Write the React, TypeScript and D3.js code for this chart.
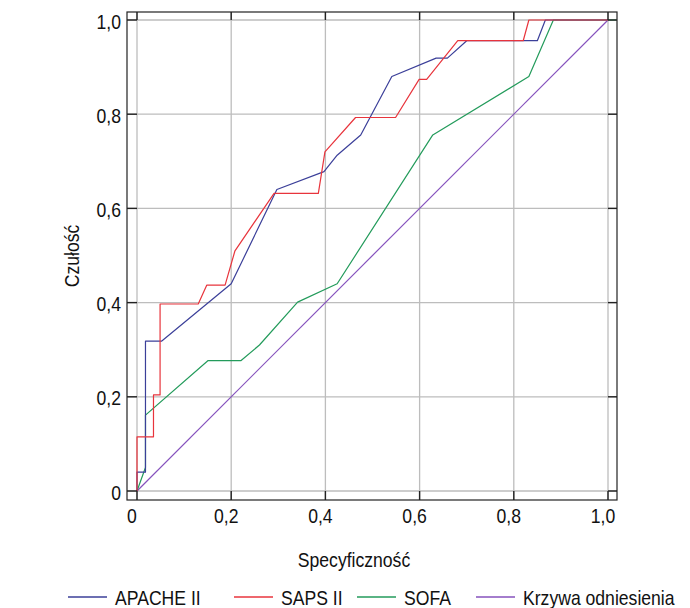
import React from "react";
import * as d3 from "d3";

// ---- data ----
const xTickValues = [0, 0.2, 0.4, 0.6, 0.8, 1.0];
const xTickLabels = ["0", "0,2", "0,4", "0,6", "0,8", "1,0"];
const yTickValues = [0, 0.2, 0.4, 0.6, 0.8, 1.0];
const yTickLabels = ["0", "0,2", "0,4", "0,6", "0,8", "1,0"];

const apacheX = [0, 0, 0.018, 0.018, 0.052, 0.2, 0.297, 0.397, 0.425, 0.475, 0.541, 0.635, 0.659, 0.7, 0.85, 0.867, 1.0];
const apacheY = [0, 0.04, 0.04, 0.318, 0.318, 0.44, 0.64, 0.678, 0.713, 0.756, 0.88, 0.919, 0.919, 0.956, 0.956, 1.0, 1.0];

const sapsX = [0, 0, 0.035, 0.035, 0.049, 0.049, 0.13, 0.148, 0.187, 0.208, 0.291, 0.385, 0.399, 0.464, 0.549, 0.599, 0.615, 0.681, 0.82, 0.832, 1.0];
const sapsY = [0, 0.115, 0.115, 0.204, 0.204, 0.397, 0.397, 0.437, 0.437, 0.51, 0.632, 0.632, 0.72, 0.793, 0.793, 0.874, 0.874, 0.956, 0.956, 1.0, 1.0];

const sofaX = [0, 0.018, 0.018, 0.151, 0.221, 0.26, 0.341, 0.425, 0.628, 0.832, 0.884, 1.017];
const sofaY = [0, 0.05, 0.161, 0.277, 0.277, 0.31, 0.401, 0.44, 0.756, 0.88, 1.0, 1.0];

const refX = [0, 1.0];
const refY = [0, 1.0];

const seriesNames = ["APACHE II", "SAPS II", "SOFA", "Krzywa odniesienia"];
const seriesColors = ["#3b3f99", "#e8343c", "#239b5b", "#8652bd"];

const xTitle = "Specyficzność";
const yTitle = "Czułość";

// ---- layout ----
const W = 690;
const H = 608;
const frame = { left: 127, right: 617, top: 12, bottom: 500 };
const plot = { left: 137, right: 608, top: 20, bottom: 491 };
const FONT = "'Liberation Sans', Arial, sans-serif";
const SX = 0.88; // horizontal squeeze to mimic a condensed face
const FS = 20;

const legendX = [68, 234, 357, 476];

function CText(props: {
  x: number;
  y: number;
  anchor?: "start" | "middle" | "end";
  rotate?: number;
  children: React.ReactNode;
}) {
  const { x, y, anchor = "start", rotate = 0, children } = props;
  return (
    <text
      transform={`translate(${x},${y}) rotate(${rotate}) scale(${SX},1)`}
      textAnchor={anchor}
      fontSize={FS}
      fill="#111"
    >
      {children}
    </text>
  );
}

export default function App() {
  const x = d3.scaleLinear().domain([0, 1]).range([plot.left, plot.right]);
  const y = d3.scaleLinear().domain([0, 1]).range([plot.bottom, plot.top]);

  const line = d3
    .line<[number, number]>()
    .x((d) => x(d[0]))
    .y((d) => y(d[1]));

  const series = [
    d3.zip(apacheX, apacheY) as [number, number][],
    d3.zip(sapsX, sapsY) as [number, number][],
    d3.zip(sofaX, sofaY) as [number, number][],
    d3.zip(refX, refY) as [number, number][],
  ];
  const drawOrder = [3, 2, 0, 1];

  return (
    <svg
      width={W}
      height={H}
      style={{ position: "absolute", left: 0, top: 0, background: "#fff" }}
      fontFamily={FONT}
    >
      <rect x={0} y={0} width={W} height={H} fill="#fff" />
      {/* grid */}
      {xTickValues.map((v, i) => (
        <line key={"gx" + i} x1={x(v)} x2={x(v)} y1={frame.top} y2={frame.bottom} stroke="#bdbdbd" strokeWidth={1.3} />
      ))}
      {yTickValues.map((v, i) => (
        <line key={"gy" + i} x1={frame.left} x2={frame.right} y1={y(v)} y2={y(v)} stroke="#bdbdbd" strokeWidth={1.3} />
      ))}
      {/* series */}
      {drawOrder.map((k) => (
        <path key={"s" + k} d={line(series[k]) || ""} fill="none" stroke={seriesColors[k]} strokeWidth={1.2} strokeLinejoin="round" />
      ))}
      {/* ticks */}
      {xTickValues.map((v, i) => (
        <g key={"tx" + i}>
          <line x1={x(v)} x2={x(v)} y1={frame.top} y2={plot.top} stroke="#222" strokeWidth={1.4} />
          <line x1={x(v)} x2={x(v)} y1={plot.bottom} y2={frame.bottom} stroke="#222" strokeWidth={1.4} />
        </g>
      ))}
      {yTickValues.map((v, i) => (
        <g key={"ty" + i}>
          <line x1={frame.left} x2={plot.left} y1={y(v)} y2={y(v)} stroke="#222" strokeWidth={1.4} />
          <line x1={plot.right} x2={frame.right} y1={y(v)} y2={y(v)} stroke="#222" strokeWidth={1.4} />
        </g>
      ))}
      {/* frame */}
      <rect
        x={frame.left}
        y={frame.top}
        width={frame.right - frame.left}
        height={frame.bottom - frame.top}
        fill="none"
        stroke="#222"
        strokeWidth={1.2}
      />
      {/* tick labels */}
      {xTickValues.map((v, i) => (
        <CText key={"lx" + i} x={x(v) - 5} y={523} anchor="middle">
          {xTickLabels[i]}
        </CText>
      ))}
      {yTickValues.map((v, i) => (
        <CText key={"ly" + i} x={121} y={y(v) + 8.5} anchor="end">
          {yTickLabels[i]}
        </CText>
      ))}
      {/* axis titles */}
      <CText x={354} y={567} anchor="middle">
        {xTitle}
      </CText>
      <CText x={79} y={256} anchor="middle" rotate={-90}>
        {yTitle}
      </CText>
      {/* legend */}
      {seriesNames.map((name, i) => (
        <g key={"lg" + i}>
          <line x1={legendX[i]} x2={legendX[i] + 39} y1={597} y2={597} stroke={seriesColors[i]} strokeWidth={1.3} />
          <CText x={legendX[i] + 47} y={605}>
            {name}
          </CText>
        </g>
      ))}
    </svg>
  );
}
